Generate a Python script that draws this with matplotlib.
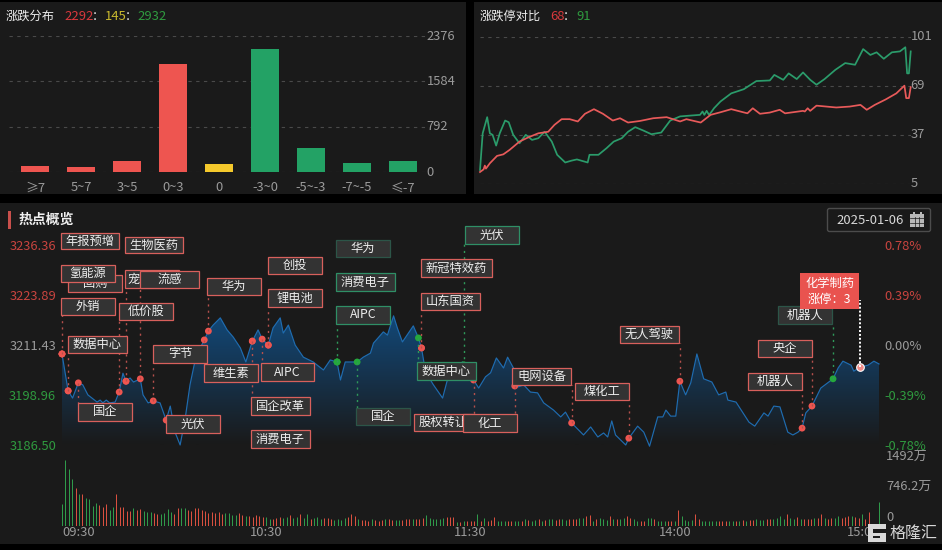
import matplotlib
matplotlib.use("Agg")
import matplotlib.pyplot as plt
import numpy as np
from matplotlib.colors import LinearSegmentedColormap
from matplotlib.patches import Rectangle, FancyBboxPatch
from matplotlib.transforms import ScaledTranslation

plt.rcParams['font.family'] = ['Noto Sans CJK SC', 'DejaVu Sans']

# rise/fall distribution
dist_labels = ["≥7", "5~7", "3~5", "0~3", "0", "-3~0", "-5~-3", "-7~-5", "≤-7"]
dist_values = [116, 87, 203, 1890, 145, 2150, 430, 168, 192]
dist_colors = ["r", "r", "r", "r", "y", "g", "g", "g", "g"]
dist_ticks = [0, 792, 1584, 2376]

# limit up / limit down counts
down_minute = [0, 1.5, 4, 5.5, 7, 9, 11, 14, 16, 18.5, 22, 25.5, 29, 32.5, 36, 40, 43, 47.5, 51, 54,
               60, 61, 66, 70.5, 74.5, 79, 82.5, 86.5, 91, 95.5, 101, 106, 111.5, 118, 122.6, 124,
               125, 126.3, 127.6, 129, 130.4,
               134, 140, 147, 154, 161.5, 164, 169, 172, 176.5, 180, 184, 187.5, 192, 198, 203.5,
               209, 213.5, 217.5, 221, 225, 229.5, 234, 237, 238, 239, 240]
down_count = [14.1, 38, 48.5, 38, 37, 30, 38, 46.3, 45.2, 37, 31.5, 37, 33.7, 34.8, 39, 32.6, 24, 19,
              20.2, 21, 19, 24, 24, 28.3, 32.6, 34.8, 39, 42, 39.8, 37.4, 38.5, 46.3, 49, 49.6, 50,
              52.2, 50, 52.6, 50, 52, 54.3,
              58.7, 64, 66.7, 72, 72.4, 76, 72.8, 77, 73.3, 77.6, 72.8, 69.6, 73.3, 79.3, 83.7,
              82.6, 92.8, 89, 90.7, 86.5, 90.7, 91.3, 94, 77, 77, 91.3]
up_minute = [0, 2, 2.7, 3.3, 5.5, 9.5, 13, 16.5, 22, 27, 32.5, 38, 41.5, 45.5, 50, 54.5, 58.5, 63.5, 68.5, 74,
             78, 82.5, 89, 96.5, 104, 111.5, 115, 123, 128.5, 134, 140, 149, 152, 156, 161.5, 167,
             170, 180, 181, 182.6, 184, 187.5, 198.5, 206, 212, 215.5, 220, 226, 232, 236.5, 237.5, 239, 240]
up_count = [12.8, 14.5, 17, 15, 18.5, 23.3, 24.3, 27.2, 32.6, 35.4, 38, 39, 43.5, 47.2, 47.2, 45.7, 50.7, 53.7,
            50.7, 46.3, 47.8, 45, 46, 47.8, 48.5, 45.7, 47.2, 45, 50, 51.7, 53.7, 51, 54.3, 50.7,
            51.5, 53.3, 51, 52.6, 52.2, 54.3, 52.6, 56, 54.8, 55.4, 56.5, 53.3, 56.5, 60, 64, 69, 60.9, 60.9, 68]
limit_ticks = [5, 37, 69, 101]

# intraday index
price_minute = [0, 1.8, 3.1, 4.8, 6.1, 7.6, 10.3, 11.2, 12, 13, 14, 15.6, 16.8, 17.9, 18.8, 20, 21, 23,
                23.8, 25.3, 26.8, 28.8, 30.6, 31.8, 33.2, 34.7, 36.2, 37.6, 39, 40.6, 41.8, 43, 44.4,
                46.5, 48.5, 50.3, 52.4, 54, 55.9, 57.6, 58.8, 60.6, 62, 64.1, 65, 66.5, 68.5, 70.9,
                73.8, 76.8, 78.8, 80.8, 81.8, 83.2, 86.7, 88.5, 90.6, 91.5, 94.4, 95.6, 97.4, 98.5,
                100, 102.4, 103.2, 104.7, 105.6, 106.8, 109.1, 111.8, 113.2, 117.6, 119, 120.9, 122.4,
                124.4, 125.9, 127.6, 129.7, 130.9, 132.6, 134.1, 135.6, 137.6, 139.7, 141.5, 144.4,
                146.5, 147.9, 149.7, 153.2, 155.3, 157.4, 159.1, 160.3, 161.5, 162.6, 165.6, 166.5,
                169.1, 170.9, 172.6, 175, 176.5, 177.4, 178.8, 180.3, 181.5, 183.2, 184.7, 186.5,
                188.5, 190.9, 192.9, 195, 195.6, 198, 201.8, 203.5, 206.2, 207.4, 209.1, 210.9, 213.2,
                214.7, 216.2, 217.4, 218.5, 220.3, 222.9, 226.5, 228, 229.4, 231.8, 232.6, 234.4,
                236.8, 238.5, 240]
price_value = [3209.2, 3200, 3198.2, 3202, 3201.5, 3199, 3197.2, 3197.7, 3197, 3197.7, 3197, 3197.2,
               3199.7, 3204.4, 3202.4, 3203.2, 3202.2, 3203, 3199, 3197, 3197.5, 3197, 3192.7, 3196.2,
               3189.7, 3186.5, 3193.2, 3201.5, 3207.2, 3210.7, 3212.7, 3214.9, 3216.4, 3218.2, 3215.2,
               3213.4, 3210.7, 3207.2, 3212.4, 3215.2, 3212.9, 3211.4, 3215.7, 3218.2, 3214.4, 3216.4,
               3211.4, 3208.4, 3207.2, 3205.2, 3207.7, 3207.2, 3202.7, 3207.2, 3207.2, 3208.4, 3209.4,
               3211.9, 3214.7, 3213.9, 3218.7, 3215.7, 3212.2, 3215.2, 3216.2, 3213.2, 3210.7, 3204.7,
               3201.5, 3198.2, 3202.7, 3207.2, 3205.7, 3202.7, 3200.7, 3203.5, 3204.5, 3208.2, 3205.7,
               3208.4, 3205.7, 3201, 3201.5, 3199.7, 3199.5, 3197, 3195.2, 3193.5, 3194.7, 3192, 3189,
               3191, 3188.5, 3189.5, 3188.5, 3192.5, 3189, 3186.5, 3188.2, 3191.2, 3189.7, 3186.2,
               3193.5, 3193.5, 3195.2, 3193.7, 3193.7, 3202.4, 3199, 3202, 3209.2, 3203, 3202.2, 3199,
               3199.7, 3197.7, 3197.2, 3192.2, 3191.2, 3194.5, 3193.7, 3196.2, 3196, 3189.7, 3189,
               3189.7, 3190.7, 3194.5, 3196.2, 3200.7, 3203, 3205.7, 3207.4, 3206.4, 3204.9, 3205.9,
               3206.4, 3207.4, 3206.7]
price_ticks = [3186.50, 3198.96, 3211.43, 3223.89, 3236.36]
pct_labels = ["-0.78%", "-0.39%", "0.00%", "0.39%", "0.78%"]
time_labels = ["09:30", "10:30", "11:30", "14:00", "15:00"]

# volume per minute, in 万
volume = [481, 1480, 1273, 1051, 836, 718, 710, 629, 599, 444,
          503, 466, 429, 488, 355, 429, 710, 429, 429, 340,
          340, 392, 355, 377, 340, 318, 318, 281, 266, 266,
          281, 370, 318, 266, 392, 407, 392, 355, 340, 392,
          392, 355, 340, 281, 303, 296, 303, 266, 281, 281,
          244, 244, 281, 244, 229, 229, 207, 244, 222, 207,
          207, 155, 155, 170, 192, 170, 207, 244, 170, 207,
          259, 170, 274, 155, 185, 207, 155, 185, 185, 155,
          133, 148, 133, 170, 207, 266, 229, 155, 133, 133,
          118, 148, 133, 118, 133, 148, 148, 133, 133, 133,
          133, 148, 163, 163, 148, 163, 178, 237, 178, 163,
          163, 163, 178, 200, 200, 200, 89, 89, 104, 104,
          111, 111, 274, 111, 185, 118, 133, 200, 111, 104,
          104, 111, 104, 111, 118, 104, 163, 133, 118, 133,
          148, 118, 133, 163, 148, 133, 163, 148, 133, 148,
          148, 163, 185, 185, 222, 244, 111, 163, 185, 148,
          133, 222, 163, 148, 163, 178, 222, 185, 163, 118,
          111, 118, 185, 185, 163, 111, 104, 118, 111, 104,
          118, 348, 222, 133, 111, 133, 274, 163, 111, 118,
          111, 111, 118, 104, 118, 104, 118, 111, 118, 118,
          133, 118, 133, 133, 148, 133, 133, 148, 148, 163,
          185, 222, 163, 259, 185, 163, 200, 163, 148, 163,
          163, 178, 185, 259, 185, 163, 178, 185, 222, 185,
          207, 222, 222, 192, 178, 259, 163, 311, 22, 22, 533]
volume_side = ("ggggrgrggg" "grrrggrrrr" "rgrrgggrrg" "gggrrggrrr" "rrrrrrrrgg"
               "ggrrgrrrrr" "ggrrrggrgg" "rggrgggrrr" "ggggrrrgrr" "rgrrrgrrgg"
               "rrrgrrrggg" "gggrrrgrgr" "rrgrgrrrgg" "grrggrgrgg" "rgrggrrggr"
               "rrggrrgrgg" "grgrggrrgg" "rrggrgggrr" "grggggrrgg" "gggrrrggrg"
               "rgrrgggrrg" "gggrggrgrr" "rgrrgrrggr" "rrgrrgrrrg" "ggg")

# tags on the intraday chart
tag_name = ["年报预增", "生物医药", "回购", "氢能源", "宠物经济", "流感", "华为", "外销", "低价股", "创投", "锂电池",
            "数据中心", "字节", "维生素", "AIPC", "国企", "光伏", "国企改革", "消费电子",
            "华为", "消费电子", "AIPC", "光伏", "新冠特效药", "山东国资", "数据中心", "国企",
            "股权转让", "化工", "电网设备", "煤化工", "无人驾驶", "央企", "机器人", "机器人"]
tag_minute = [0, 18.8, 1.8, 0, 18.8, 23, 43, 0, 16.8, 60.6, 60.6,
              1.8, 26.8, 41.8, 58.8, 4.8, 30.6, 55.9, 55.9,
              80.8, 80.8, 80.8, 118, 105.6, 105.6, 104.7, 86.7,
              120.9, 133, 149.7, 166.5, 181.5, 220.3, 217.4, 226.5]
tag_price = [3209.2, 3202.4, 3200, 3209.2, 3202.4, 3203, 3214.9, 3209.2, 3199.7, 3211.4, 3211.4,
             3200, 3197.5, 3212.7, 3212.9, 3202, 3192.7, 3212.4, 3212.4,
             3207.2, 3207.2, 3207.2, 3206.5, 3210.7, 3210.7, 3213.2, 3207.2,
             3202.7, 3201.2, 3192, 3188.2, 3202.4, 3196.2, 3190.7, 3203]
tag_side = ["r"] * 19 + ["g"] * 4 + ["r", "r", "g", "g", "r", "r", "r", "r", "r", "r", "r", "g"]
dim_tags = [19, 26, 34]
pick_name = "化学制药"
pick_count = 3
pick_minute = 234.4
pick_price = 3205.9

# box of each tag on the page: left, top, right, bottom
tag_box = [(61, 233, 119, 249), (125, 237, 183, 253), (68, 275, 122, 292), (61, 265, 115, 282),
           (125, 270, 179, 288), (140, 271, 199, 288), (207, 278, 261, 295), (61, 298, 115, 315),
           (119, 303, 173, 320), (268, 257, 322, 274), (268, 289, 322, 307), (68, 336, 127, 353),
           (153, 345, 207, 363), (204, 364, 258, 382), (261, 363, 314, 381), (78, 403, 132, 421),
           (166, 415, 220, 433), (251, 397, 310, 415), (251, 430, 310, 448), (336, 240, 390, 257),
           (336, 273, 395, 291), (336, 306, 390, 324), (465, 226, 519, 244), (421, 259, 492, 277),
           (421, 293, 480, 310), (417, 362, 476, 380), (356, 408, 410, 425), (414, 414, 473, 431),
           (463, 414, 517, 432), (512, 368, 571, 385), (575, 383, 629, 400), (620, 326, 679, 343),
           (758, 340, 812, 357), (748, 373, 802, 390), (778, 306, 832, 324)]

PAGE = "#000000"
PANEL = "#1a1a1a"
RED = "#ee5550"
GREEN = "#23a265"
YELLOW = "#f5c92c"
GREY = "#9a9a9a"
TEXT_RED = "#c8443f"
TEXT_GREEN = "#2f9a3f"
side_color = {"r": RED, "g": GREEN, "y": YELLOW}
W, H = 942, 550


def page_axes(left, top, right, bottom):
    return fig.add_axes([left / W, 1 - bottom / H, (right - left) / W, (bottom - top) / H])


def clean(ax):
    ax.patch.set_alpha(0)
    for s in ax.spines.values():
        s.set_visible(False)
    ax.tick_params(length=0, labelsize=9.3, labelcolor=GREY)


def lift_labels(ax, pixels):
    shift = ScaledTranslation(0, pixels / 100, fig.dpi_scale_trans)
    for lab in ax.get_yticklabels():
        lab.set_transform(lab.get_transform() + shift)


fig = plt.figure(figsize=(W / 100, H / 100), dpi=100, facecolor=PAGE)

bg = page_axes(0, 0, W, H)
bg.set_xlim(0, W)
bg.set_ylim(H, 0)
bg.axis("off")
bg.add_patch(Rectangle((0, 2), 466, 192, color=PANEL, lw=0))
bg.add_patch(Rectangle((474, 2), 468, 192, color=PANEL, lw=0))
bg.add_patch(Rectangle((0, 203), 942, 341, color=PANEL, lw=0))

# bars
ax1 = page_axes(9, 36, 426, 172.3)
clean(ax1)
ax1.bar(range(len(dist_values)), dist_values, width=0.61,
        color=[side_color[c] for c in dist_colors], zorder=3)
ax1.set_xlim(-0.565, 8.5)
ax1.set_ylim(0, 2376)
ax1.set_xticks(range(len(dist_labels)), dist_labels)
ax1.set_yticks(dist_ticks, [str(t) for t in dist_ticks])
ax1.yaxis.tick_right()
ax1.tick_params(axis="y", pad=0.5)
ax1.tick_params(axis="x", pad=6.5)
ax1.grid(axis="y", color="#4a4a4a", lw=0.8, dashes=(3, 4))
ax1.set_axisbelow(True)
lift_labels(ax1, 1.5)

# limit lines
ax2 = page_axes(480, 36.5, 910.7, 184)
clean(ax2)
ax2.plot(down_minute, down_count, color="#2b9c6b", lw=1.25, clip_on=False, zorder=3)
ax2.plot(up_minute, up_count, color="#e85a5a", lw=1.25, clip_on=False, zorder=4)
ax2.set_xlim(0, 240)
ax2.set_ylim(5, 101)
ax2.set_xticks([])
ax2.set_yticks(limit_ticks, [str(t) for t in limit_ticks])
ax2.yaxis.tick_right()
ax2.tick_params(axis="y", pad=0)
ax2.grid(axis="y", color="#4a4a4a", lw=0.8, dashes=(3, 4))
lift_labels(ax2, 2)

# intraday area
ax3 = page_axes(60.3, 245, 880.7, 445)
clean(ax3)
ax3.set_xlim(-0.5, 240.5)
ax3.set_ylim(3186.50, 3236.36)
area = ax3.fill_between(price_minute, price_value, 3186.50, color="none", lw=0)
fade = LinearSegmentedColormap.from_list("fade", [PANEL, "#124878"])
img = ax3.imshow(np.linspace(1, 0, 100).reshape(-1, 1), cmap=fade, aspect="auto",
                 extent=(0, 240, 3186.50, max(price_value)), zorder=1)
img.set_clip_path(area.get_paths()[0], transform=ax3.transData)
ax3.set_xlim(-0.5, 240.5)
ax3.set_ylim(3186.50, 3236.36)
ax3.plot(price_minute, price_value, color="#1f6cb0", lw=0.85, zorder=2, clip_on=False)
ax3.set_xticks([])
ax3.set_yticks(price_ticks, [f"{t:.2f}" for t in price_ticks])
ax3.tick_params(axis="y", pad=3)
left_colors = [TEXT_GREEN, TEXT_GREEN, GREY, TEXT_RED, TEXT_RED]
for lab, col in zip(ax3.get_yticklabels(), left_colors):
    lab.set_color(col)
ax3b = ax3.twinx()
clean(ax3b)
ax3b.set_ylim(3186.50, 3236.36)
ax3b.set_yticks(price_ticks, pct_labels)
ax3b.tick_params(axis="y", pad=2.5)
for lab, col in zip(ax3b.get_yticklabels(), left_colors):
    lab.set_color(col)

# markers
marker_x, marker_y, marker_c = [], [], []
for i in range(len(tag_name)):
    marker_x.append(tag_minute[i])
    marker_y.append(tag_price[i])
    marker_c.append("#25a83c" if tag_side[i] == "g" else RED)
ax3.scatter(marker_x, marker_y, s=24, c=marker_c, zorder=5, lw=0, clip_on=False)
ax3.scatter([pick_minute], [pick_price], s=30, c="#f08a86", edgecolors="white", lw=0.8,
            zorder=6, clip_on=False)

# volume
ax4 = page_axes(60.3, 459, 880.7, 526)
clean(ax4)
ax4.vlines(range(len(volume)), 0, volume,
           colors=["#d9503f" if c == "r" else "#2f9a4a" for c in volume_side], lw=0.72)
ax4.set_xlim(-0.5, 240.5)
ax4.set_ylim(0, 1492)
ax4.set_yticks([])
ax4.set_xticks([0, 60, 120, 180, 240], time_labels)
ax4.tick_params(axis="x", pad=0)
ax4.get_xticklabels()[0].set_ha("left")
ax4.get_xticklabels()[4].set_ha("right")

# tags, titles and the rest sit on top, in page pixels
top = page_axes(0, 0, W, H)
top.set_xlim(0, W)
top.set_ylim(H, 0)
top.axis("off")
top.patch.set_alpha(0)


def to_page(minute, price):
    return top.transData.inverted().transform(ax3.transData.transform((minute, price)))


def page_text(x, y, s, color, size=8.8, ha="left", **kw):
    return top.text(x, y, s, color=color, fontsize=size, ha=ha, va="center", **kw)


# only the tag nearest to its point gets a dotted line
nearest = {}
for i, m in enumerate(tag_minute):
    mx, my = to_page(m, tag_price[i])
    l, t, r, b = tag_box[i]
    edge = b if b < my else t
    if m not in nearest or abs(edge - my) < abs(nearest[m][1] - my):
        nearest[m] = (i, edge)
for m, (i, edge) in nearest.items():
    mx, my = to_page(m, tag_price[i])
    top.plot([mx, mx], [my, edge], color="#2f9a5a" if tag_side[i] == "g" else "#b5504c",
             lw=1, dashes=(1.5, 3))
for i, name in enumerate(tag_name):
    l, t, r, b = tag_box[i]
    edge = "#d8605c" if tag_side[i] == "r" else "#2f8f66"
    if i in dim_tags:
        edge = "#2c5548"
    top.add_patch(Rectangle((l, t), r - l, b - t, facecolor="#333333", edgecolor=edge, lw=0.9, zorder=3))
    top.text((l + r) / 2, (t + b) / 2, name, color="#eeeeee", fontsize=8.8, ha="center", va="center", zorder=3)

# picked tag
px, py = to_page(pick_minute, pick_price)
top.plot([px, px], [py, 300], color="white", lw=1.4, dashes=(1, 1), zorder=4)
top.add_patch(Rectangle((800, 273), 59, 36, color="#e9534f", lw=0, zorder=5))
top.text(829.5, 283, pick_name, color="white", fontsize=8.8, ha="center", va="center", zorder=6)
top.text(829.5, 299, f"涨停：{pick_count}", color="white", fontsize=8.8, ha="center", va="center", zorder=6)

# panel titles
page_text(6, 16, "涨跌分布", "#eeeeee")
page_text(64, 16, "2292", "#d8383c", size=9.4)
page_text(92, 16, "：", "#eeeeee")
page_text(105, 16, "145", "#c9b92e", size=9.4)
page_text(125, 16, "：", "#eeeeee")
page_text(137, 16, "2932", "#2f9a3f", size=9.4)
page_text(480, 16, "涨跌停对比", "#eeeeee")
page_text(550, 16, "68", "#d8383c", size=9.4)
page_text(563, 16, "：", "#eeeeee")
page_text(576, 16, "91", "#2f9a3f", size=9.4)
top.add_patch(Rectangle((8, 211), 3, 18, color="#c9504c", lw=0))
page_text(19, 220, "热点概览", "#eeeeee", size=10, weight="bold")

# date box
top.add_patch(FancyBboxPatch((827.5, 208.5), 103, 23, boxstyle="round,pad=0,rounding_size=2",
                             fc=PANEL, ec="#4c4c4c", lw=1))
page_text(836.5, 220.5, "2025-01-06", "#d8d8d8", size=9.4)
top.add_patch(Rectangle((910, 214), 14, 13, fc="#b8b8b8", ec="none"))
top.add_patch(Rectangle((912.5, 212), 2, 3, fc="#b8b8b8", ec="none"))
top.add_patch(Rectangle((919.5, 212), 2, 3, fc="#b8b8b8", ec="none"))
for gx in [914.5, 919]:
    top.plot([gx, gx], [217, 227], color=PANEL, lw=0.5)
for gy in [218, 222.5]:
    top.plot([910, 924], [gy, gy], color=PANEL, lw=0.5)

# volume scale
page_text(886, 457.7, "1492万", GREY, size=9.3)
page_text(886, 487.7, "746.2万", GREY, size=9.3)
page_text(886, 517.3, "0", GREY, size=9.3)

# watermark
top.add_patch(Rectangle((868, 524), 18, 18, color="#d8d8d8", lw=0, zorder=7))
top.add_patch(Rectangle((873, 529), 13, 4, color=PANEL, lw=0, zorder=7))
top.add_patch(Rectangle((873, 536), 7, 2, color=PANEL, lw=0, zorder=7))
page_text(889, 533, "格隆汇", "#d8d8d8", size=11.5, zorder=7)

fig.savefig("out.png", dpi=100, facecolor=PAGE)
